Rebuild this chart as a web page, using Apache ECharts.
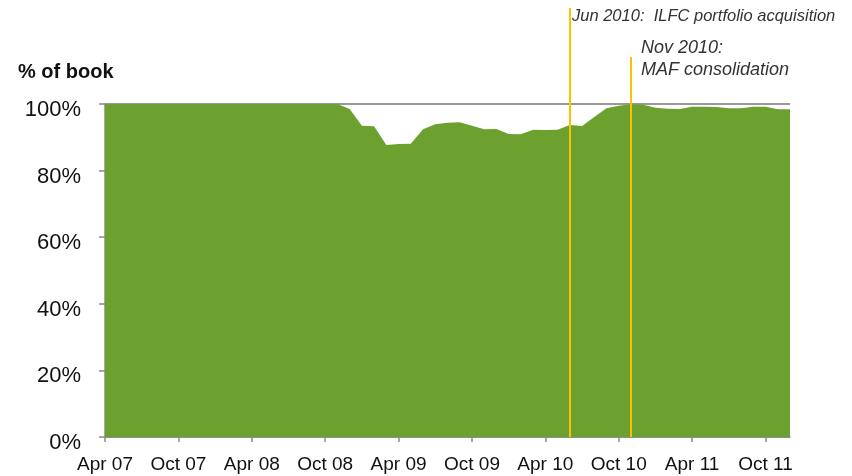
<!DOCTYPE html>
<html>
<head>
<meta charset="utf-8">
<script src="https://cdn.jsdelivr.net/npm/echarts@6/dist/echarts.min.js"></script>
<style>
html,body{margin:0;padding:0;background:#fff;}
#chart{width:852px;height:476px;}
</style>
</head>
<body>
<div id="chart"></div>
<script>
const categories = [
  'Apr 07','May 07','Jun 07','Jul 07','Aug 07','Sep 07','Oct 07','Nov 07','Dec 07',
  'Jan 08','Feb 08','Mar 08','Apr 08','May 08','Jun 08','Jul 08','Aug 08','Sep 08','Oct 08','Nov 08','Dec 08',
  'Jan 09','Feb 09','Mar 09','Apr 09','May 09','Jun 09','Jul 09','Aug 09','Sep 09','Oct 09','Nov 09','Dec 09',
  'Jan 10','Feb 10','Mar 10','Apr 10','May 10','Jun 10','Jul 10','Aug 10','Sep 10','Oct 10','Nov 10','Dec 10',
  'Jan 11','Feb 11','Mar 11','Apr 11','May 11','Jun 11','Jul 11','Aug 11','Sep 11','Oct 11','Nov 11','Dec 11'
];
const shareOfBook = [
  100,100,100,100,100,100,100,100,100,
  100,100,100,100,100,100,100,100,100,100,100,98.5,
  93.5,93.3,87.7,88.0,88.1,92.4,93.9,94.4,94.5,93.5,92.4,92.5,
  91.0,90.9,92.3,92.2,92.3,93.7,93.4,96.1,98.7,99.5,99.9,99.8,
  98.9,98.6,98.5,99.2,99.2,99.1,98.7,98.7,99.2,99.2,98.4,98.4
];
const yTicks = [0,20,40,60,80,100];
const eventMonths = ['Jun 10','Nov 10'];
const eventTexts = ['Jun 2010:  ILFC portfolio acquisition','Nov 2010:\nMAF consolidation'];

const FONT = '"Liberation Sans", Arial, sans-serif';
// overlay axis scale: value 100 sits on the 100% line, top of overlay grid is above it
const overlayMax = 131.23;
const eventTops = [128.8, 114.1];

const chart = echarts.init(document.getElementById('chart'), null, {renderer:'canvas'});
chart.setOption({
  animation: false,
  grid: [
    {left:105, right:62, top:104, bottom:39},
    {left:105, right:62, top:0, bottom:39}
  ],
  xAxis: [
    {
      type:'category', gridIndex:0, data:categories, boundaryGap:false,
      axisLine:{show:true, lineStyle:{color:'#8c8c8c', width:1.5}},
      axisTick:{show:true, interval:5, length:5, lineStyle:{color:'#8c8c8c', width:1.5}},
      axisLabel:{interval:5, margin:18, color:'#111', fontSize:19, fontFamily:FONT},
      splitLine:{show:false}
    },
    {type:'category', gridIndex:1, data:categories, boundaryGap:false, show:false}
  ],
  yAxis: [
    {
      type:'value', gridIndex:0, min:yTicks[0], max:yTicks[yTicks.length-1], interval:20,
      axisLine:{show:true, lineStyle:{color:'#8c8c8c', width:1.5}},
      axisTick:{show:true, length:6, lineStyle:{color:'#8c8c8c', width:1.5}},
      axisLabel:{formatter:'{value}%', margin:24, color:'#111', fontSize:22, fontFamily:FONT,
                 verticalAlign:'top', lineHeight:12},
      splitLine:{show:true, lineStyle:{color:'#999', width:1.8}}
    },
    {type:'value', gridIndex:1, min:0, max:overlayMax, show:false}
  ],
  series: [
    {
      type:'line', xAxisIndex:0, yAxisIndex:0, data:shareOfBook,
      symbol:'none', lineStyle:{width:0}, itemStyle:{color:'#6ca12f'},
      areaStyle:{color:'#6ca12f', opacity:1}, z:2, silent:true
    },
    {
      type:'line', xAxisIndex:1, yAxisIndex:1, data:[], z:5, silent:true,
      markLine:{
        silent:true, symbol:['none','none'], animation:false,
        label:{show:false},
        lineStyle:{color:'#ffc000', width:2, type:'solid'},
        data: eventMonths.map((m,k)=>[
          {coord:[categories.indexOf(m), 0]},
          {coord:[categories.indexOf(m), eventTops[k]]}
        ])
      }
    }
  ],
  graphic: [
    {type:'text', left:18, top:62, style:{text:'% of book', font:'bold 20px '+FONT, fill:'#111'}},
    {type:'text', left:572, top:8, style:{text:eventTexts[0], font:'italic 16.5px '+FONT, fill:'#333'}},
    {type:'text', left:641, top:37, style:{text:eventTexts[1], font:'italic 18px '+FONT, fill:'#333', lineHeight:22}}
  ]
});
</script>
</body>
</html>
